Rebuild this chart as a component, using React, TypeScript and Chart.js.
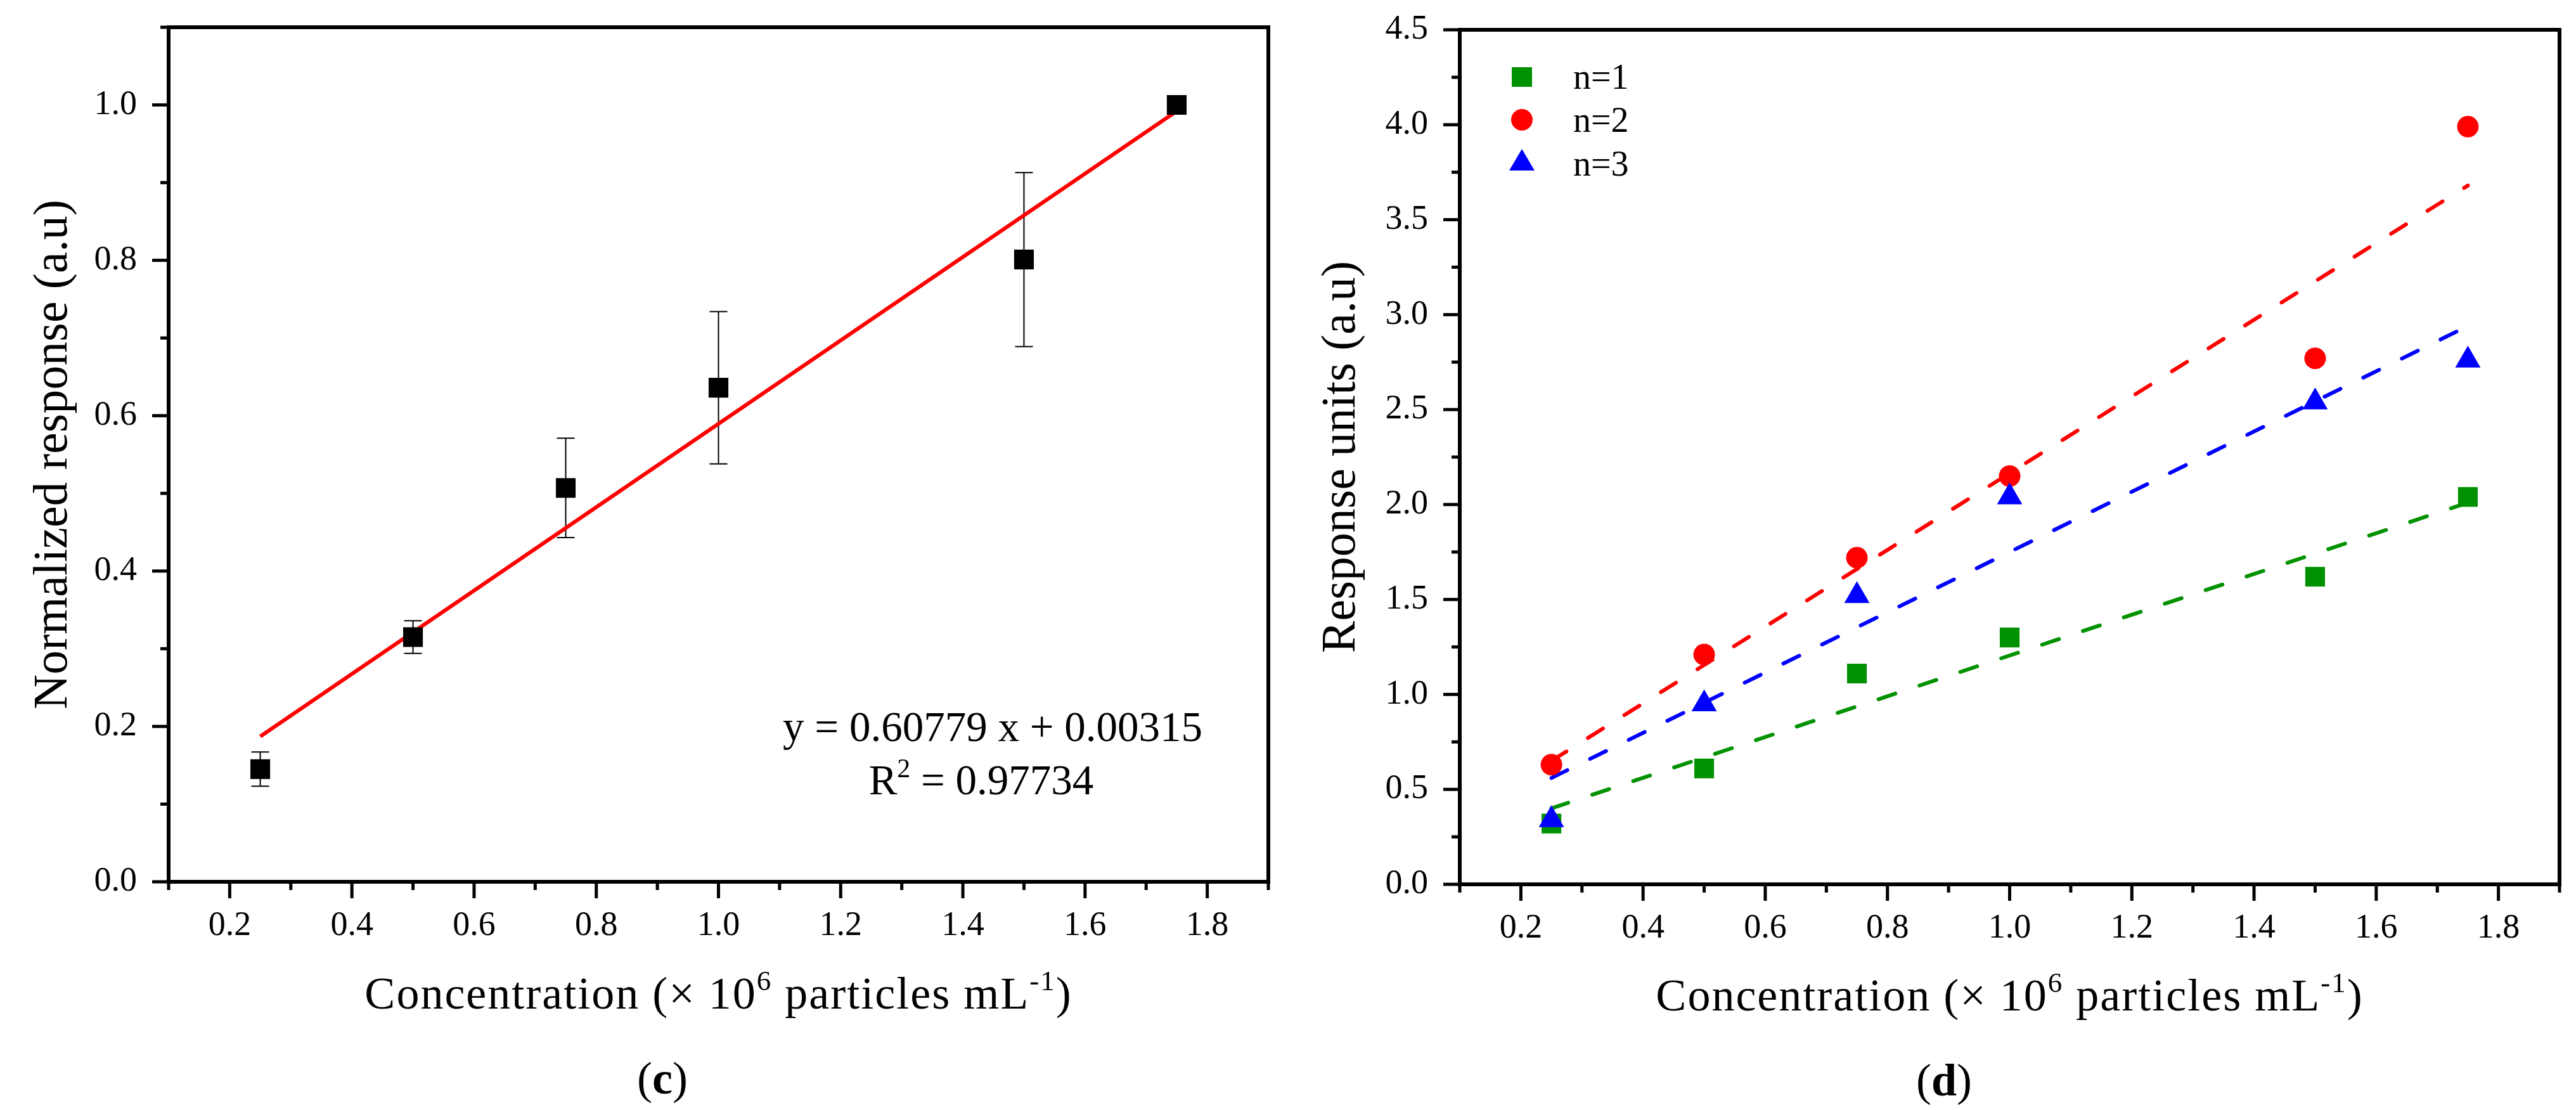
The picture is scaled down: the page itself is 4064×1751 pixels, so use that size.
import React, { useEffect, useRef } from 'react';
import { Chart, registerables } from 'chart.js';

Chart.register(...registerables);

const SERIF = '"Liberation Serif", "Times New Roman", Times, serif';

// ---------- axis ticks ----------
const xTickValues = [0.2, 0.4, 0.6, 0.8, 1.0, 1.2, 1.4, 1.6, 1.8];
const xMinorValues = [0.1, 0.3, 0.5, 0.7, 0.9, 1.1, 1.3, 1.5, 1.7, 1.9];
const leftYTickValues = [0.0, 0.2, 0.4, 0.6, 0.8, 1.0];
const leftYMinorValues = [0.1, 0.3, 0.5, 0.7, 0.9, 1.1];
const rightYTickValues = [0.0, 0.5, 1.0, 1.5, 2.0, 2.5, 3.0, 3.5, 4.0, 4.5];
const rightYMinorValues = [0.25, 0.75, 1.25, 1.75, 2.25, 2.75, 3.25, 3.75, 4.25];

// ---------- panel (c) data ----------
const concentration = [0.25, 0.5, 0.75, 1.0, 1.5, 1.75];
const normalizedResponse = [0.145, 0.315, 0.507, 0.636, 0.801, 1.0];
const normalizedError = [0.022, 0.021, 0.064, 0.098, 0.112, 0];
const fitX = [0.25, 1.75];
const normalizedFitY = [0.187, 0.992];

// ---------- panel (d) data ----------
const seriesLabels = ['n=1', 'n=2', 'n=3'];
const responseN1 = [0.32, 0.61, 1.11, 1.3, 1.62, 2.04];
const responseN2 = [0.63, 1.21, 1.72, 2.15, 2.77, 3.99];
const responseN3 = [0.34, 0.95, 1.52, 2.04, 2.54, 2.76];
const fitN1 = [0.4, 2.01];
const fitN2 = [0.65, 3.68];
const fitN3 = [0.56, 2.94];

const GREEN = '#009100';
const RED = '#ff0000';
const BLUE = '#0000ff';

type Seg = { text: string; sup?: boolean; bold?: boolean };

function drawRich(ctx: CanvasRenderingContext2D, segs: Seg[], cx: number, baseline: number, size: number, spacing: number) {
  ctx.save();
  (ctx as any).letterSpacing = spacing + 'px';
  ctx.fillStyle = '#000';
  ctx.textAlign = 'left';
  ctx.textBaseline = 'alphabetic';
  const supSize = Math.round(size * 0.62);
  const fontOf = (s: Seg) => `${s.bold ? 'bold ' : ''}${s.sup ? supSize : size}px ${SERIF}`;
  const widths = segs.map((s) => {
    ctx.font = fontOf(s);
    return ctx.measureText(s.text).width;
  });
  const total = widths.reduce((a, b) => a + b, 0);
  let x = cx - total / 2;
  segs.forEach((s, i) => {
    ctx.font = fontOf(s);
    ctx.fillText(s.text, x, s.sup ? baseline - size * 0.4 : baseline);
    x += widths[i];
  });
  ctx.restore();
}

function drawYTitle(ctx: CanvasRenderingContext2D, text: string, cx: number, cy: number, size: number) {
  ctx.save();
  ctx.translate(cx, cy);
  ctx.rotate(-Math.PI / 2);
  ctx.font = `${size}px ${SERIF}`;
  ctx.fillStyle = '#000';
  ctx.textAlign = 'center';
  ctx.textBaseline = 'middle';
  ctx.fillText(text, 0, 0);
  ctx.restore();
}

const xTitleSegs: Seg[] = [
  { text: 'Concentration (\u00d7 10' },
  { text: '6', sup: true },
  { text: ' particles mL' },
  { text: '-1', sup: true },
  { text: ')' },
];

function framePlugin(yMajor: number[], yMinor: number[]) {
  return {
    id: 'frameTicks',
    afterDraw(chart: any) {
      const { ctx, chartArea: a, scales } = chart;
      const x = scales.x;
      const y = scales.y;
      ctx.save();
      ctx.strokeStyle = '#000';
      ctx.lineCap = 'butt';
      ctx.lineWidth = 5;
      const seg = (x1: number, y1: number, x2: number, y2: number) => {
        ctx.beginPath();
        ctx.moveTo(x1, y1);
        ctx.lineTo(x2, y2);
        ctx.stroke();
      };
      xTickValues.forEach((v) => {
        const p = x.getPixelForValue(v);
        seg(p, a.bottom, p, a.bottom + 26);
      });
      xMinorValues.forEach((v) => {
        const p = x.getPixelForValue(v);
        seg(p, a.bottom, p, a.bottom + 13);
      });
      yMajor.forEach((v) => {
        const p = y.getPixelForValue(v);
        seg(a.left, p, a.left - 26, p);
      });
      yMinor.forEach((v) => {
        const p = y.getPixelForValue(v);
        seg(a.left, p, a.left - 13, p);
      });
      ctx.lineWidth = 6;
      ctx.strokeRect(a.left, a.top, a.right - a.left, a.bottom - a.top);
      ctx.restore();
    },
  };
}

function zeroPadding(s: any) {
  s.paddingTop = 0;
  s.paddingBottom = 0;
  s.paddingLeft = 0;
  s.paddingRight = 0;
}

function baseScales(yMin: number, yMax: number, yTicks: number[], yWidth: number, xHeight: number) {
  const tickFont = { family: SERIF, size: 54 };
  return {
    x: {
      type: 'linear',
      min: 0.1,
      max: 1.9,
      afterBuildTicks: (s: any) => {
        s.ticks = xTickValues.map((v) => ({ value: v }));
      },
      afterFit: (s: any) => {
        s.height = xHeight;
        zeroPadding(s);
      },
      grid: { display: false, drawTicks: false },
      border: { display: false },
      ticks: {
        padding: 37,
        font: tickFont,
        color: '#000',
        autoSkip: false,
        maxRotation: 0,
        callback: (v: any) => Number(v).toFixed(1),
      },
    },
    y: {
      type: 'linear',
      min: yMin,
      max: yMax,
      afterBuildTicks: (s: any) => {
        s.ticks = yTicks.map((v) => ({ value: v }));
      },
      afterFit: (s: any) => {
        s.width = yWidth;
        zeroPadding(s);
      },
      grid: { display: false, drawTicks: false },
      border: { display: false },
      ticks: {
        padding: 50,
        font: tickFont,
        color: '#000',
        autoSkip: false,
        callback: (v: any) => Number(v).toFixed(1),
      },
    },
  };
}

function buildLeft(): any {
  const errorBars = {
    id: 'errorBars',
    beforeDatasetsDraw(chart: any) {
      const { ctx, scales } = chart;
      ctx.save();
      ctx.strokeStyle = '#000';
      ctx.lineWidth = 2;
      concentration.forEach((c, i) => {
        const e = normalizedError[i];
        if (!e) return;
        const px = scales.x.getPixelForValue(c);
        const top = scales.y.getPixelForValue(normalizedResponse[i] + e);
        const bot = scales.y.getPixelForValue(normalizedResponse[i] - e);
        ctx.beginPath();
        ctx.moveTo(px, top);
        ctx.lineTo(px, bot);
        ctx.moveTo(px - 14, top);
        ctx.lineTo(px + 14, top);
        ctx.moveTo(px - 14, bot);
        ctx.lineTo(px + 14, bot);
        ctx.stroke();
      });
      ctx.restore();
    },
  };
  const texts = {
    id: 'texts',
    afterDraw(chart: any) {
      const { ctx, chartArea: a } = chart;
      drawYTitle(ctx, 'Normalized response (a.u)', 85, (a.top + a.bottom) / 2, 76);
      drawRich(ctx, xTitleSegs, (a.left + a.right) / 2, 1591, 72, 2);
      drawRich(ctx, [{ text: '(' }, { text: 'c', bold: true }, { text: ')' }], 1045, 1725, 72, 0);
      drawRich(ctx, [{ text: 'y = 0.60779 x + 0.00315' }], 1566, 1169, 67, 0);
      drawRich(ctx, [{ text: 'R' }, { text: '2', sup: true }, { text: ' = 0.97734' }], 1548, 1253, 67, 0);
    },
  };
  return {
    type: 'scatter',
    data: {
      datasets: [
        {
          type: 'scatter',
          data: concentration.map((c, i) => ({ x: c, y: normalizedResponse[i] })),
          pointStyle: 'rect',
          pointRadius: 22,
          pointHoverRadius: 22,
          backgroundColor: '#000',
          borderColor: '#000',
          borderWidth: 0,
        },
        {
          type: 'line',
          data: fitX.map((c, i) => ({ x: c, y: normalizedFitY[i] })),
          borderColor: RED,
          borderWidth: 6,
          pointRadius: 0,
          fill: false,
          tension: 0,
        },
      ],
    },
    options: {
      responsive: false,
      animation: false,
      devicePixelRatio: 1,
      events: [],
      layout: { padding: { left: 0, top: 43, right: 31, bottom: 0 } },
      plugins: { legend: { display: false }, tooltip: { enabled: false }, title: { display: false } },
      scales: baseScales(0, 1.1, leftYTickValues, 266, 1751 - 1391),
    },
    plugins: [errorBars, framePlugin(leftYTickValues, leftYMinorValues), texts],
  };
}

function buildRight(): any {
  const texts = {
    id: 'texts',
    afterDraw(chart: any) {
      const { ctx, chartArea: a } = chart;
      drawYTitle(ctx, 'Response units (a.u)', 85, (a.top + a.bottom) / 2, 76);
      drawRich(ctx, xTitleSegs, (a.left + a.right) / 2, 1594, 72, 2);
      drawRich(ctx, [{ text: '(' }, { text: 'd', bold: true }, { text: ')' }], 1035, 1728, 72, 0);
      // legend
      const mx = a.left + 98;
      const tx = a.left + 179;
      ctx.save();
      ctx.fillStyle = GREEN;
      ctx.fillRect(mx - 16, a.top + 59, 32, 31);
      ctx.fillStyle = RED;
      ctx.beginPath();
      ctx.arc(mx, a.top + 142, 17, 0, Math.PI * 2);
      ctx.fill();
      ctx.fillStyle = BLUE;
      ctx.beginPath();
      ctx.moveTo(mx, a.top + 188);
      ctx.lineTo(mx + 20, a.top + 222);
      ctx.lineTo(mx - 20, a.top + 222);
      ctx.closePath();
      ctx.fill();
      ctx.fillStyle = '#000';
      ctx.font = `56px ${SERIF}`;
      ctx.textAlign = 'left';
      ctx.textBaseline = 'alphabetic';
      ctx.fillText(seriesLabels[0], tx, a.top + 93);
      ctx.fillText(seriesLabels[1], tx, a.top + 161);
      ctx.fillText(seriesLabels[2], tx, a.top + 230);
      ctx.restore();
    },
  };
  const pts = (vals: number[]) => concentration.map((c, i) => ({ x: c, y: vals[i] }));
  const fit = (vals: number[]) => fitX.map((c, i) => ({ x: c, y: vals[i] }));
  const dashed = (vals: number[], color: string) => ({
    type: 'line',
    data: fit(vals),
    borderColor: color,
    borderWidth: 6,
    borderDash: [28, 40],
    borderCapStyle: 'round',
    pointRadius: 0,
    fill: false,
    tension: 0,
  });
  return {
    type: 'scatter',
    data: {
      datasets: [
        {
          type: 'scatter',
          label: seriesLabels[2],
          data: pts(responseN3),
          pointStyle: 'triangle',
          pointRadius: 23,
          pointHoverRadius: 23,
          backgroundColor: BLUE,
          borderWidth: 0,
        },
        {
          type: 'scatter',
          label: seriesLabels[1],
          data: pts(responseN2),
          pointStyle: 'circle',
          pointRadius: 17,
          pointHoverRadius: 17,
          backgroundColor: RED,
          borderWidth: 0,
        },
        {
          type: 'scatter',
          label: seriesLabels[0],
          data: pts(responseN1),
          pointStyle: 'rect',
          pointRadius: 22,
          pointHoverRadius: 22,
          backgroundColor: GREEN,
          borderWidth: 0,
        },
        dashed(fitN3, BLUE),
        dashed(fitN2, RED),
        dashed(fitN1, GREEN),
      ],
    },
    options: {
      responsive: false,
      animation: false,
      devicePixelRatio: 1,
      events: [],
      layout: { padding: { left: 0, top: 47, right: 26, bottom: 0 } },
      plugins: { legend: { display: false }, tooltip: { enabled: false }, title: { display: false } },
      scales: baseScales(0, 4.5, rightYTickValues, 271, 1751 - 1395),
    },
    plugins: [framePlugin(rightYTickValues, rightYMinorValues), texts],
  };
}

function ChartPanel({ build, left }: { build: () => any; left: number }) {
  const ref = useRef<HTMLCanvasElement>(null);
  useEffect(() => {
    const chart = new Chart(ref.current as HTMLCanvasElement, build());
    return () => chart.destroy();
  }, []);
  return (
    <canvas
      ref={ref}
      width={2032}
      height={1751}
      style={{ position: 'absolute', left, top: 0, width: 2032, height: 1751, display: 'block' }}
    />
  );
}

export default function App() {
  return (
    <div style={{ position: 'absolute', left: 0, top: 0, width: 4064, height: 1751, background: '#fff', overflow: 'hidden' }}>
      <ChartPanel build={buildLeft} left={0} />
      <ChartPanel build={buildRight} left={2032} />
    </div>
  );
}
